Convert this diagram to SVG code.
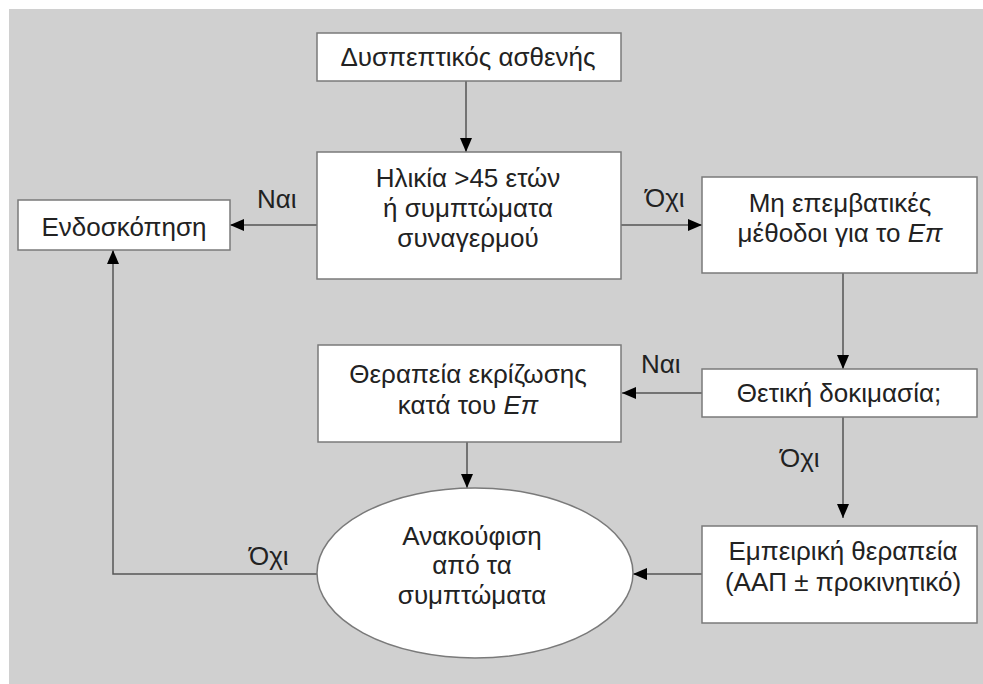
<svg xmlns="http://www.w3.org/2000/svg" width="983" height="684" viewBox="0 0 983 684">
  <defs>
    <marker id="arr" markerUnits="userSpaceOnUse" markerWidth="14" markerHeight="12" refX="14" refY="6" orient="auto">
      <path d="M0,0 L14,6 L0,12 z" fill="#000"/>
    </marker>
    <style>
      .box { fill: #fff; stroke: #7a7a7a; stroke-width: 1.5; }
      .t { font-family: "Liberation Sans", Arial, sans-serif; font-size: 26px; fill: #222; text-anchor: middle; }
      .lbl { font-family: "Liberation Sans", Arial, sans-serif; font-size: 26px; fill: #222; }
      .c { fill: none; stroke: #555; stroke-width: 1.5; }
      .a { marker-end: url(#arr); }
      .i { font-style: italic; }
    </style>
  </defs>
  <rect x="9" y="9" width="974" height="675" fill="#d0d0d0"/>

  <g id="connectors">
    <line class="c a" x1="466" y1="81" x2="466" y2="152"/>
    <line class="c a" x1="317" y1="225" x2="230" y2="225"/>
    <line class="c a" x1="621" y1="225" x2="702" y2="225"/>
    <line class="c a" x1="843" y1="273" x2="843" y2="369"/>
    <line class="c a" x1="702" y1="393" x2="622" y2="393"/>
    <line class="c a" x1="843" y1="417" x2="843" y2="518"/>
    <line class="c a" x1="467" y1="442" x2="467" y2="488"/>
    <line class="c a" x1="702" y1="574" x2="633" y2="574"/>
    <polyline class="c a" points="317,574 113,574 113,250"/>
    <text class="lbl" x="257" y="208">Ναι</text>
    <text class="lbl" x="645" y="207">Όχι</text>
    <text class="lbl" x="641" y="373">Ναι</text>
    <text class="lbl" x="780" y="467">Όχι</text>
    <text class="lbl" x="249" y="565">Όχι</text>
  </g>

  <g id="n-start">
    <rect class="box" x="317" y="33" width="304" height="48"/>
    <text class="t" x="468" y="66">Δυσπεπτικός ασθενής</text>
  </g>

  <g id="n-age">
    <rect class="box" x="317" y="152" width="304" height="127"/>
    <text class="t" x="468" y="187">Ηλικία &gt;45 ετών</text>
    <text class="t" x="468" y="217">ή συμπτώματα</text>
    <text class="t" x="468" y="247">συναγερμού</text>
  </g>

  <g id="n-endo">
    <rect class="box" x="18" y="200" width="212" height="50"/>
    <text class="t" x="124" y="236">Ενδοσκόπηση</text>
  </g>

  <g id="n-noninv">
    <rect class="box" x="702" y="177" width="275" height="96"/>
    <text class="t" x="840" y="212">Μη επεμβατικές</text>
    <text class="t" x="840" y="242">μέθοδοι για το <tspan class="i">Επ</tspan></text>
  </g>

  <g id="n-test">
    <rect class="box" x="702" y="369" width="275" height="48"/>
    <text class="t" x="839" y="402">Θετική δοκιμασία;</text>
  </g>

  <g id="n-erad">
    <rect class="box" x="318" y="345" width="303" height="97"/>
    <text class="t" x="468" y="383">Θεραπεία εκρίζωσης</text>
    <text class="t" x="468" y="414">κατά του <tspan class="i">Επ</tspan></text>
  </g>

  <g id="n-relief">
    <ellipse class="box" cx="475" cy="573" rx="158" ry="85"/>
    <text class="t" x="472" y="545">Ανακούφιση</text>
    <text class="t" x="472" y="574">από τα</text>
    <text class="t" x="472" y="604">συμπτώματα</text>
  </g>

  <g id="n-empiric">
    <rect class="box" x="702" y="526" width="275" height="97"/>
    <text class="t" x="843" y="560">Εμπειρική θεραπεία</text>
    <text class="t" x="843" y="591">(ΑΑΠ ± προκινητικό)</text>
  </g>
</svg>
